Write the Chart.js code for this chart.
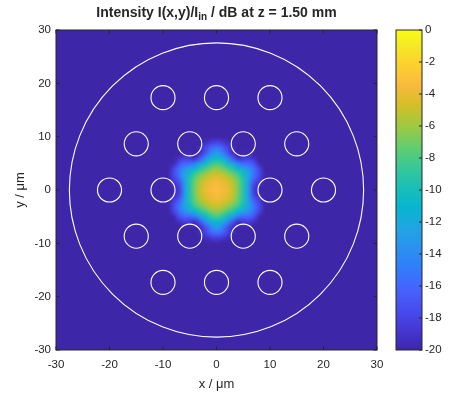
<!DOCTYPE html>
<html>
<head>
<meta charset="utf-8">
<script src="https://cdn.jsdelivr.net/npm/chart.js@4.4.1/dist/chart.umd.min.js"></script>
<style>
  html, body { margin: 0; background: #fff; }
  #wrap { width: 452px; height: 394px; }
</style>
</head>
<body>
<div id="wrap"><canvas id="chart"></canvas></div>
<script>
const gridX = [-10, -9, -8, -7, -6, -5, -4, -3, -2, -1, 0, 1, 2, 3, 4, 5, 6, 7, 8, 9, 10];
const gridY = [10, 9, 8, 7, 6, 5, 4, 3, 2, 1, 0, -1, -2, -3, -4, -5, -6, -7, -8, -9, -10];
const intensity = [
  [-20, -20, -20, -20, -20, -20, -20, -20, -20, -20, -20, -20, -20, -20, -20, -20, -20, -20, -20, -20, -20],
  [-20, -20, -20, -20, -20, -20, -20, -20, -19.4, -18.6, -18.2, -18.6, -19.4, -20, -20, -20, -20, -20, -20, -20, -20],
  [-20, -20, -20, -20, -20, -20, -20, -19.3, -17.9, -16.2, -15.5, -16.2, -17.9, -19.3, -20, -20, -20, -20, -20, -20, -20],
  [-20, -20, -20, -20, -20, -19.8, -20, -19.3, -17.1, -14.2, -13.0, -14.2, -17.1, -19.3, -20, -19.8, -20, -20, -20, -20, -20],
  [-20, -20, -20, -19.3, -18.4, -18.8, -19.3, -16.9, -14.0, -11.7, -10.8, -11.7, -14.0, -16.9, -19.3, -18.8, -18.4, -19.3, -20, -20, -20],
  [-20, -20, -19.8, -17.4, -16.2, -16.0, -14.8, -12.8, -10.6, -8.9, -8.3, -8.9, -10.6, -12.8, -14.8, -16.0, -16.2, -17.4, -19.8, -20, -20],
  [-20, -20, -18.1, -15.7, -13.8, -12.4, -11.0, -9.2, -8.0, -6.8, -6.3, -6.8, -8.0, -9.2, -11.0, -12.4, -13.8, -15.7, -18.1, -20, -20],
  [-20, -19.8, -17.7, -15.2, -12.5, -10.4, -8.4, -7.1, -6.1, -5.2, -4.9, -5.2, -6.1, -7.1, -8.4, -10.4, -12.5, -15.2, -17.7, -19.8, -20],
  [-20, -20, -18.3, -16.5, -12.7, -9.5, -7.3, -5.8, -4.8, -4.2, -4.0, -4.2, -4.8, -5.8, -7.3, -9.5, -12.7, -16.5, -18.3, -20, -20],
  [-20, -20, -19.4, -17.9, -13.3, -9.4, -6.9, -5.2, -4.2, -3.7, -3.5, -3.7, -4.2, -5.2, -6.9, -9.4, -13.3, -17.9, -19.4, -20, -20],
  [-20, -20, -20, -18.5, -13.5, -9.3, -6.8, -5.0, -4.0, -3.5, -3.3, -3.5, -4.0, -5.0, -6.8, -9.3, -13.5, -18.5, -20, -20, -20],
  [-20, -20, -19.4, -17.9, -13.3, -9.4, -6.9, -5.2, -4.2, -3.7, -3.5, -3.7, -4.2, -5.2, -6.9, -9.4, -13.3, -17.9, -19.4, -20, -20],
  [-20, -20, -18.3, -16.5, -12.7, -9.5, -7.3, -5.8, -4.8, -4.2, -4.0, -4.2, -4.8, -5.8, -7.3, -9.5, -12.7, -16.5, -18.3, -20, -20],
  [-20, -19.8, -17.7, -15.2, -12.5, -10.4, -8.4, -7.1, -6.1, -5.2, -4.9, -5.2, -6.1, -7.1, -8.4, -10.4, -12.5, -15.2, -17.7, -19.8, -20],
  [-20, -20, -18.1, -15.7, -13.8, -12.4, -11.0, -9.2, -8.0, -6.8, -6.3, -6.8, -8.0, -9.2, -11.0, -12.4, -13.8, -15.7, -18.1, -20, -20],
  [-20, -20, -19.8, -17.4, -16.2, -16.0, -14.8, -12.8, -10.6, -8.9, -8.3, -8.9, -10.6, -12.8, -14.8, -16.0, -16.2, -17.4, -19.8, -20, -20],
  [-20, -20, -20, -19.3, -18.4, -18.8, -19.3, -16.9, -14.0, -11.7, -10.8, -11.7, -14.0, -16.9, -19.3, -18.8, -18.4, -19.3, -20, -20, -20],
  [-20, -20, -20, -20, -20, -19.8, -20, -19.3, -17.1, -14.2, -13.0, -14.2, -17.1, -19.3, -20, -19.8, -20, -20, -20, -20, -20],
  [-20, -20, -20, -20, -20, -20, -20, -19.3, -17.9, -16.2, -15.5, -16.2, -17.9, -19.3, -20, -20, -20, -20, -20, -20, -20],
  [-20, -20, -20, -20, -20, -20, -20, -20, -19.4, -18.6, -18.2, -18.6, -19.4, -20, -20, -20, -20, -20, -20, -20, -20],
  [-20, -20, -20, -20, -20, -20, -20, -20, -20, -20, -20, -20, -20, -20, -20, -20, -20, -20, -20, -20, -20]
];

// air holes and cladding edge, um
const holeX = [-10, 0, 10, -15, -5, 5, 15, -20, -10, 10, 20, -15, -5, 5, 15, -10, 0, 10];
const holeY = [17.32, 17.32, 17.32, 8.66, 8.66, 8.66, 8.66, 0, 0, 0, 0, -8.66, -8.66, -8.66, -8.66, -17.32, -17.32, -17.32];
const holeRadius = 2.25;
const claddingRadius = 27.5;

const axisTicks = [-30, -20, -10, 0, 10, 20, 30];
const cbarTicks = [0, -2, -4, -6, -8, -10, -12, -14, -16, -18, -20];
const dbMin = -20;
const dbMax = 0;

const FONT = "'Liberation Sans', Arial, Helvetica, sans-serif";
const INK = '#262626';

// parula, every 4th entry of the 64 colour table
const parulaStops = [
  [0.000, 0.2422, 0.1504, 0.6603],
  [0.063, 0.2706, 0.2147, 0.8364],
  [0.127, 0.2813, 0.3006, 0.9414],
  [0.190, 0.2699, 0.3892, 0.9906],
  [0.254, 0.1963, 0.4847, 0.9892],
  [0.317, 0.1687, 0.5703, 0.9359],
  [0.381, 0.1248, 0.6459, 0.8883],
  [0.444, 0.0297, 0.7082, 0.8163],
  [0.508, 0.0964, 0.7500, 0.7120],
  [0.571, 0.2161, 0.7843, 0.5923],
  [0.635, 0.3909, 0.8029, 0.4354],
  [0.698, 0.6174, 0.7876, 0.2612],
  [0.762, 0.8203, 0.7498, 0.1535],
  [0.825, 0.9728, 0.7298, 0.2394],
  [0.889, 0.9892, 0.8136, 0.1885],
  [0.952, 0.9597, 0.9135, 0.1423],
  [1.000, 0.9769, 0.9839, 0.0805]
];

function parula(v) {
  const t = Math.min(1, Math.max(0, (v - dbMin) / (dbMax - dbMin)));
  for (let i = 1; i < parulaStops.length; i++) {
    const a = parulaStops[i - 1], b = parulaStops[i];
    if (t <= b[0]) {
      const f = (t - a[0]) / (b[0] - a[0]);
      return [1, 2, 3].map(k => Math.round(255 * (a[k] + f * (b[k] - a[k]))));
    }
  }
  return [249, 251, 21];
}

function ringRadius(chart, r) {
  const x = chart.scales.x;
  return Math.abs(x.getPixelForValue(r) - x.getPixelForValue(0));
}

// keep label overhang out of the layout so the plot box sits where it should
function noOverhang(s) {
  s.paddingTop = 0;
  s.paddingBottom = 0;
  s.paddingLeft = 0;
  s.paddingRight = 0;
}

const heatmap = {
  id: 'heatmap',
  beforeDatasetsDraw(chart) {
    const { ctx, chartArea: a, scales: { x, y } } = chart;
    ctx.save();
    ctx.fillStyle = `rgb(${parula(dbMin)})`;
    ctx.fillRect(a.left, a.top, a.width, a.height);

    const img = document.createElement('canvas');
    img.width = gridX.length;
    img.height = gridY.length;
    const ictx = img.getContext('2d');
    const pix = ictx.createImageData(img.width, img.height);
    intensity.forEach((row, j) => row.forEach((v, i) => {
      const c = parula(v);
      const k = 4 * (j * img.width + i);
      pix.data[k] = c[0];
      pix.data[k + 1] = c[1];
      pix.data[k + 2] = c[2];
      pix.data[k + 3] = 255;
    }));
    ictx.putImageData(pix, 0, 0);

    const half = (gridX[1] - gridX[0]) / 2;
    const x0 = x.getPixelForValue(gridX[0] - half);
    const x1 = x.getPixelForValue(gridX[gridX.length - 1] + half);
    const y0 = y.getPixelForValue(gridY[0] + half);
    const y1 = y.getPixelForValue(gridY[gridY.length - 1] - half);
    ctx.imageSmoothingEnabled = true;
    ctx.imageSmoothingQuality = 'high';
    ctx.drawImage(img, x0, y0, x1 - x0, y1 - y0);
    ctx.restore();
  }
};

const frame = {
  id: 'frame',
  afterDraw(chart) {
    const { ctx, chartArea: a, scales: { x, y, cbar } } = chart;
    const tl = 3.5;
    ctx.save();
    ctx.strokeStyle = INK;
    ctx.lineWidth = 1;

    // axes box with inward ticks
    ctx.strokeRect(a.left, a.top, a.width, a.height);
    ctx.beginPath();
    axisTicks.forEach(v => {
      const px = x.getPixelForValue(v);
      ctx.moveTo(px, a.bottom); ctx.lineTo(px, a.bottom - tl);
      ctx.moveTo(px, a.top); ctx.lineTo(px, a.top + tl);
      const py = y.getPixelForValue(v);
      ctx.moveTo(a.left, py); ctx.lineTo(a.left + tl, py);
      ctx.moveTo(a.right, py); ctx.lineTo(a.right - tl, py);
    });
    ctx.stroke();

    // colour bar
    const bl = cbar.left + 19, br = cbar.left + 45;
    const bt = cbar.getPixelForValue(dbMax), bb = cbar.getPixelForValue(dbMin);
    const grad = ctx.createLinearGradient(0, bb, 0, bt);
    parulaStops.forEach(s => grad.addColorStop(s[0],
      `rgb(${Math.round(s[1] * 255)},${Math.round(s[2] * 255)},${Math.round(s[3] * 255)})`));
    ctx.fillStyle = grad;
    ctx.fillRect(bl, bt, br - bl, bb - bt);
    ctx.strokeRect(bl, bt, br - bl, bb - bt);
    ctx.beginPath();
    cbarTicks.forEach(v => {
      const py = cbar.getPixelForValue(v);
      ctx.moveTo(br, py); ctx.lineTo(br - 3, py);
    });
    ctx.stroke();

    // axis labels
    ctx.fillStyle = INK;
    ctx.font = `13px ${FONT}`;
    ctx.textAlign = 'center';
    ctx.textBaseline = 'middle';
    ctx.fillText('x / μm', (a.left + a.right) / 2, a.bottom + 34);
    ctx.save();
    ctx.translate(20, (a.top + a.bottom) / 2);
    ctx.rotate(-Math.PI / 2);
    ctx.fillText('y / μm', 0, 0);
    ctx.restore();

    // title with subscript
    const parts = [
      { t: 'Intensity I(x,y)/I', f: `bold 14px ${FONT}`, dy: 0 },
      { t: 'in', f: `bold 10px ${FONT}`, dy: 3 },
      { t: ' / dB at z = 1.50 mm', f: `bold 14px ${FONT}`, dy: 0 }
    ];
    let w = 0;
    parts.forEach(p => { ctx.font = p.f; p.w = ctx.measureText(p.t).width; w += p.w; });
    let cx = (a.left + a.right) / 2 - w / 2;
    ctx.textAlign = 'left';
    ctx.textBaseline = 'alphabetic';
    parts.forEach(p => {
      ctx.font = p.f;
      ctx.fillText(p.t, cx, 17 + p.dy);
      cx += p.w;
    });
    ctx.restore();
  }
};

const tickFont = { family: FONT, size: 11.5 };

new Chart(document.getElementById('chart'), {
  type: 'scatter',
  data: {
    datasets: [
      {
        data: holeX.map((hx, i) => ({ x: hx, y: holeY[i] })),
        pointRadius: ctx => ringRadius(ctx.chart, holeRadius),
        pointBackgroundColor: 'rgba(0,0,0,0)',
        pointBorderColor: '#ffffff',
        pointBorderWidth: 1.1
      },
      {
        data: [{ x: 0, y: 0 }],
        pointRadius: ctx => ringRadius(ctx.chart, claddingRadius),
        pointBackgroundColor: 'rgba(0,0,0,0)',
        pointBorderColor: '#ffffff',
        pointBorderWidth: 1.1
      }
    ]
  },
  options: {
    responsive: true,
    maintainAspectRatio: false,
    animation: false,
    events: [],
    layout: { padding: { top: 30, left: 0, right: 0, bottom: 0 } },
    plugins: { legend: { display: false }, tooltip: { enabled: false } },
    scales: {
      x: {
        type: 'linear', min: -30, max: 30,
        afterBuildTicks: s => { s.ticks = axisTicks.map(v => ({ value: v })); },
        afterFit: s => { s.height = 44; noOverhang(s); },
        ticks: { font: tickFont, color: INK, padding: 8, maxRotation: 0 },
        grid: { display: false, drawTicks: false },
        border: { display: false }
      },
      y: {
        type: 'linear', min: -30, max: 30,
        afterBuildTicks: s => { s.ticks = axisTicks.map(v => ({ value: v })); },
        afterFit: s => { s.width = 56; noOverhang(s); },
        ticks: { font: tickFont, color: INK, padding: 5 },
        grid: { display: false, drawTicks: false },
        border: { display: false }
      },
      cbar: {
        type: 'linear', position: 'right', min: dbMin, max: dbMax,
        afterBuildTicks: s => { s.ticks = cbarTicks.map(v => ({ value: v })); },
        afterFit: s => { s.width = 75; noOverhang(s); },
        ticks: { font: tickFont, color: INK, padding: 48 },
        grid: { display: false, drawTicks: false },
        border: { display: false }
      }
    }
  },
  plugins: [heatmap, frame]
});
</script>
</body>
</html>
